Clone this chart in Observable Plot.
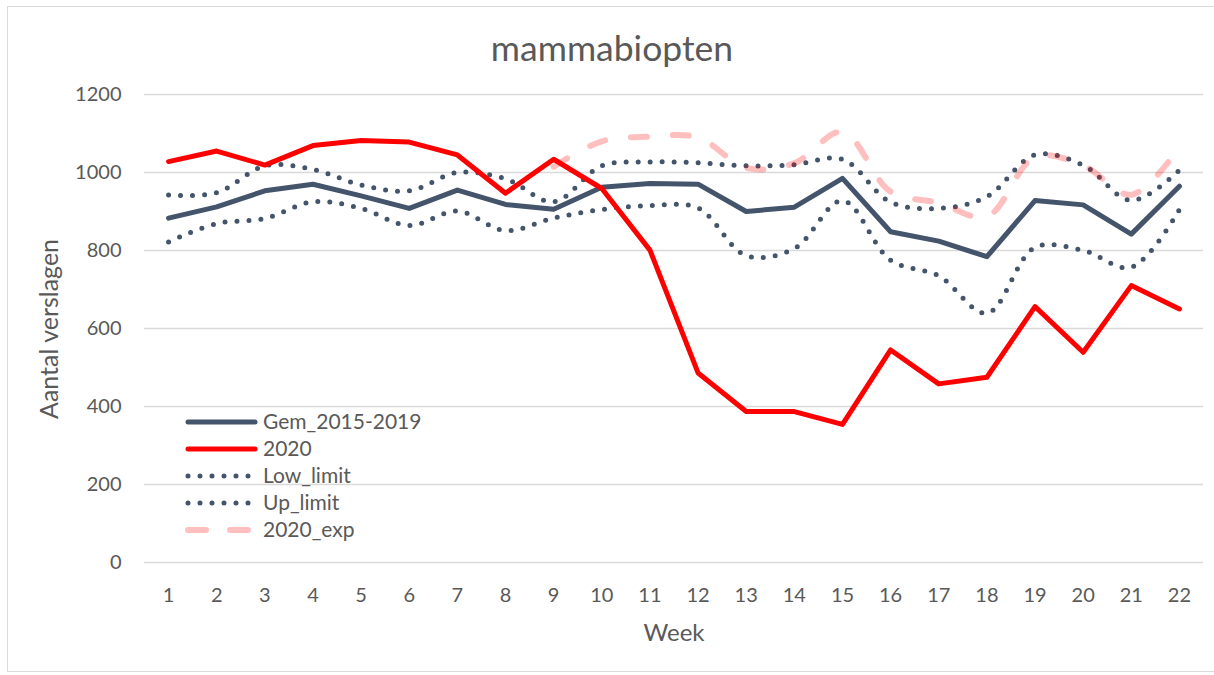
<!DOCTYPE html>
<html><head><meta charset="utf-8">
<script src="https://cdn.jsdelivr.net/npm/d3@7"></script>
<script src="https://cdn.jsdelivr.net/npm/@observablehq/plot@0.6"></script>
<style>
body{margin:0;background:#fff;}
#wrap{position:relative;width:1214px;height:675px;overflow:hidden;font-family:Lato,sans-serif;color:#595959;}
#border{position:absolute;left:7px;top:6px;width:1230px;height:666px;border:1.5px solid #d9d9d9;box-sizing:border-box;}
#chart{position:absolute;left:0;top:0;}
#title{position:absolute;left:612px;top:30px;transform:translateX(-50%);font-size:35.5px;line-height:36px;white-space:nowrap;}
#ylab{position:absolute;left:-102px;top:314px;width:300px;height:30px;line-height:30px;font-size:25px;text-align:center;transform:rotate(-90deg);white-space:nowrap;}
#xlab{position:absolute;left:524px;top:618px;width:300px;line-height:28px;font-size:24px;text-align:center;}
#legend{position:absolute;left:185px;top:407px;font-size:21px;}
.row{height:27px;line-height:27px;display:flex;align-items:flex-start;}
.row svg{display:block;margin-right:0;}
.row span{display:block;line-height:24px;padding-top:2px;white-space:nowrap;}
</style>
</head><body>
<div id="wrap">
  <div id="border"></div>
  <div id="chart"></div>
  <div id="title"></div>
  <div id="ylab"></div>
  <div id="xlab"></div>
  <div id="legend"></div>
</div>
<script>
const titleText = "mammabiopten";
const yTitle = "Aantal verslagen";
const xTitle = "Week";
const weeks = [1,2,3,4,5,6,7,8,9,10,11,12,13,14,15,16,17,18,19,20,21,22];
const yTicks = [0,200,400,600,800,1000,1200];
const gem = [883,912,953,970,940,908,955,918,906,962,972,970,900,911,985,848,824,784,928,917,842,965];
const y2020 = [1028,1055,1019,1069,1082,1078,1045,947,1034,959,801,486,387,387,354,545,458,475,656,539,710,650];
const lowLimit = [822,869,882,925,908,864,901,851,883,905,915,909,787,805,928,775,735,639,808,800,757,905];
const upLimit = [942,948,1017,1008,968,953,1000,984,925,1017,1027,1025,1017,1020,1034,924,908,938,1045,1019,928,1006];
const exp2020 = [null,null,null,null,null,null,null,null,1015,1080,1092,1090,1012,1024,1104,951,922,887,1040,1018,943,1065];
const seriesNames = ["Gem_2015-2019","2020","Low_limit","Up_limit","2020_exp"];

const data = weeks.map((w,i)=>({week:w, gem:gem[i], y2020:y2020[i], low:lowLimit[i], up:upLimit[i], exp:exp2020[i]}));
const expData = data.filter(d=>d.exp!=null);

const cGem = "#44546A", cRed = "#FF0000";

const chart = Plot.plot({
  width:1214, height:675,
  marginLeft:144, marginRight:11, marginTop:94, marginBottom:113,
  style:{fontFamily:"Lato, sans-serif", fontSize:"20px", color:"#595959", background:"transparent"},
  x:{domain:[0.5,22.5], axis:null},
  y:{domain:[0,1200], axis:null},
  marks:[
    Plot.ruleY(yTicks,{stroke:"#d9d9d9", strokeWidth:1.4}),
    Plot.axisY(yTicks,{tickSize:0, tickPadding:23, fontSize:20, label:null, tickFormat:d=>String(d)}),
    Plot.axisX(weeks,{tickSize:0, tickPadding:25, fontSize:20, label:null, tickFormat:d=>String(d)}),
    Plot.line(data,{x:"week", y:"low", stroke:cGem, strokeWidth:5, strokeDasharray:"0 12", strokeLinecap:"round", curve:"catmull-rom"}),
    Plot.line(data,{x:"week", y:"up", stroke:cGem, strokeWidth:5, strokeDasharray:"0 12", strokeLinecap:"round", curve:"catmull-rom"}),
    Plot.line(expData,{x:"week", y:"exp", stroke:cRed, strokeOpacity:0.25, strokeWidth:6, strokeDasharray:"16 26", strokeLinecap:"round", curve:"catmull-rom"}),
    Plot.line(data,{x:"week", y:"gem", stroke:cGem, strokeWidth:5, strokeLinejoin:"round"}),
    Plot.line(data,{x:"week", y:"y2020", stroke:cRed, strokeWidth:5, strokeLinejoin:"round"})
  ]
});
document.getElementById("chart").appendChild(chart);
document.getElementById("title").textContent = titleText;
document.getElementById("ylab").textContent = yTitle;
document.getElementById("xlab").textContent = xTitle;

const styles = [
  {stroke:cGem, dash:null, op:1, w:5},
  {stroke:cRed, dash:null, op:1, w:5},
  {stroke:cGem, dash:"0 12", op:1, w:5},
  {stroke:cGem, dash:"0 12", op:1, w:5},
  {stroke:cRed, dash:"18 24", op:0.25, w:6}
];
const leg = document.getElementById("legend");
seriesNames.forEach((name,i)=>{
  const s = styles[i];
  const row = document.createElement("div");
  row.className = "row";
  const dash = s.dash ? ` stroke-dasharray="${s.dash}"` : "";
  row.innerHTML = `<svg width="78" height="27"><line x1="3" x2="70" y1="15" y2="15" stroke="${s.stroke}" stroke-opacity="${s.op}" stroke-width="${s.w}" stroke-linecap="round"${dash}/></svg><span>${name}</span>`;
  leg.appendChild(row);
});
</script>
</body></html>
